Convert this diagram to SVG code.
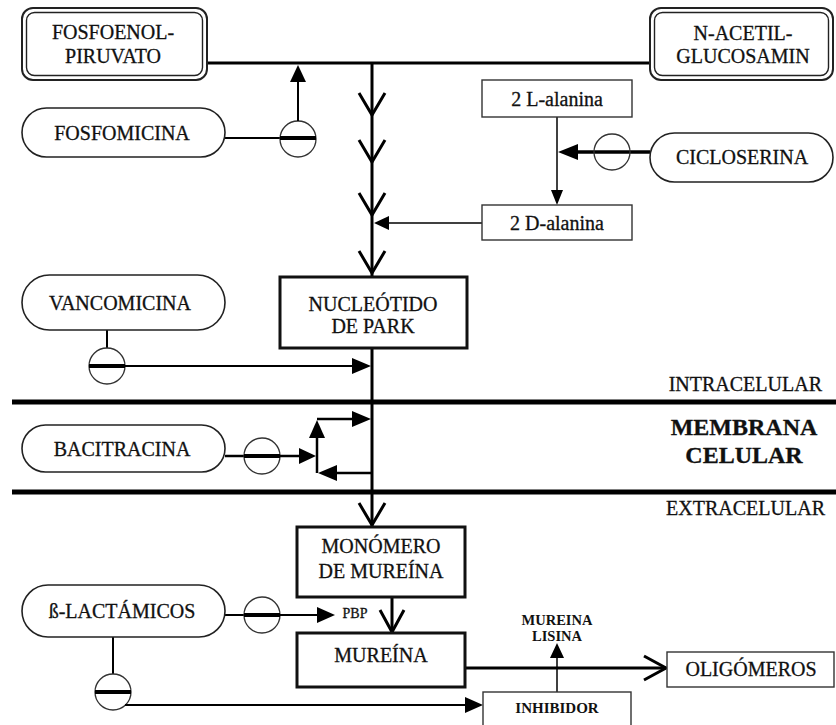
<svg xmlns="http://www.w3.org/2000/svg" width="836" height="725" viewBox="0 0 836 725">
<style>
text{font-family:"Liberation Serif","Times New Roman",serif;fill:#111;stroke:#111;stroke-width:0.3;text-anchor:middle}
.t20{font-size:20px}
.sm{font-size:14.5px;font-weight:bold;stroke-width:0}
.pill{fill:#fff;stroke:#222;stroke-width:1.6}
.box{fill:#fff;stroke:#111;stroke-width:3}
.tbox{fill:#fff;stroke:#333;stroke-width:1.4}
.dbl{fill:#fff;stroke:#222;stroke-width:2}
.dbli{fill:none;stroke:#222;stroke-width:1.4}
.circ{fill:#fff;stroke:#333;stroke-width:1.3}
.bar{stroke:#000;stroke-width:4}
.ln{stroke:#000;fill:none}
.chev{stroke:#000;stroke-width:3;fill:none}
.head{fill:#000}
.mem{stroke:#000;stroke-width:5}
</style>

<g id="membrane">
<line class="mem" x1="12" y1="402" x2="836" y2="402"/>
<line class="mem" x1="12" y1="492" x2="836" y2="492"/>
<text class="t20" x="822" y="391" style="text-anchor:end">INTRACELULAR</text>
<text x="744" y="435" style="font-size:24px;font-weight:bold">MEMBRANA</text>
<text x="744" y="463" style="font-size:24px;font-weight:bold">CELULAR</text>
<text class="t20" x="825" y="515" style="text-anchor:end">EXTRACELULAR</text>
</g>

<g id="connectors">
<line class="ln" x1="207" y1="63" x2="650" y2="63" stroke-width="3"/>
<line class="ln" x1="372" y1="63" x2="372" y2="277" stroke-width="3"/>
<line class="ln" x1="372" y1="348" x2="372" y2="527" stroke-width="3"/>
<polyline class="chev" points="359,93 372,115 385,93"/>
<polyline class="chev" points="359,140 372,162 385,140"/>
<polyline class="chev" points="359,193 372,215 385,193"/>
<polyline class="chev" points="359,251 372,273 385,251"/>
<polyline class="chev" points="359,503 372,525 385,503"/>
<line class="ln" x1="482" y1="223" x2="386" y2="223" stroke-width="1.5"/>
<polygon class="head" points="374,223 389,216 389,230"/>
<line class="ln" x1="557" y1="117" x2="557" y2="192" stroke-width="1.5"/>
<polygon class="head" points="557,205 551,190 563,190"/>
<line class="ln" x1="650" y1="152" x2="575" y2="152" stroke-width="3.5"/>
<polygon class="head" points="558,152 578,144 578,160"/>
<circle class="circ" cx="612" cy="152" r="18" style="fill:none"/>
<line class="ln" x1="225" y1="138" x2="280" y2="138" stroke-width="2"/>
<circle class="circ" cx="298" cy="139" r="18"/>
<line class="bar" x1="280" y1="138" x2="316" y2="138"/>
<line class="ln" x1="298" y1="121" x2="298" y2="80" stroke-width="2"/>
<polygon class="head" points="298,65 290,82 306,82"/>
<line class="ln" x1="107" y1="330" x2="107" y2="348" stroke-width="2"/>
<circle class="circ" cx="107" cy="366" r="18"/>
<line class="bar" x1="89" y1="366" x2="125" y2="366"/>
<line class="ln" x1="125" y1="366" x2="354" y2="366" stroke-width="2"/>
<polygon class="head" points="371,366 352,358 352,374"/>
<line class="ln" x1="225" y1="456" x2="244" y2="456" stroke-width="2.5"/>
<circle class="circ" cx="262" cy="456" r="18"/>
<line class="bar" x1="244" y1="456" x2="280" y2="456"/>
<line class="ln" x1="280" y1="456" x2="302" y2="456" stroke-width="2.5"/>
<polygon class="head" points="316,456 299,448 299,464"/>
<line class="ln" x1="317" y1="473" x2="317" y2="432" stroke-width="2.5"/>
<polygon class="head" points="317,420 309,438 325,438"/>
<line class="ln" x1="317" y1="419" x2="354" y2="419" stroke-width="2.5"/>
<polygon class="head" points="371,419 352,411 352,427"/>
<line class="ln" x1="371" y1="473" x2="334" y2="473" stroke-width="2.5"/>
<polygon class="head" points="318,473 337,465 337,481"/>
<line class="ln" x1="225" y1="615" x2="244" y2="615" stroke-width="2"/>
<circle class="circ" cx="262" cy="615" r="18"/>
<line class="bar" x1="244" y1="615" x2="280" y2="615"/>
<line class="ln" x1="280" y1="615" x2="320" y2="615" stroke-width="2"/>
<polygon class="head" points="335,615 317,607 317,623"/>
<line class="ln" x1="113" y1="637" x2="113" y2="674" stroke-width="2"/>
<circle class="circ" cx="113" cy="692" r="18"/>
<line class="bar" x1="95" y1="692" x2="131" y2="692"/>
<line class="ln" x1="125" y1="705" x2="468" y2="705" stroke-width="2"/>
<polygon class="head" points="483,705 465,697 465,713"/>
<line class="ln" x1="392" y1="597" x2="392" y2="632" stroke-width="3"/>
<polyline class="chev" points="380,610 392,632 404,610"/>
<line class="ln" x1="465" y1="668" x2="666" y2="668" stroke-width="3"/>
<polyline class="chev" points="644,656 666,668 644,680"/>
<line class="ln" x1="557" y1="692" x2="557" y2="655" stroke-width="1.5"/>
<polygon class="head" points="557,643 550,658 564,658"/>
</g>

<g id="fosfoenolpiruvato">
<rect class="dbl" x="22" y="8" width="185" height="72" rx="11"/>
<rect class="dbli" x="26.5" y="12.5" width="176" height="63" rx="8"/>
<text class="t20" x="113" y="39">FOSFOENOL-</text>
<text class="t20" x="113" y="63">PIRUVATO</text>
</g>

<g id="nacetilglucosamin">
<rect class="dbl" x="650" y="8" width="183" height="72" rx="11"/>
<rect class="dbli" x="654.5" y="12.5" width="174" height="63" rx="8"/>
<text class="t20" x="743" y="40">N-ACETIL-</text>
<text class="t20" x="743" y="63">GLUCOSAMIN</text>
</g>

<g id="fosfomicina">
<rect class="pill" x="22" y="108" width="203" height="49" rx="24.5"/>
<text class="t20" x="122" y="140">FOSFOMICINA</text>
</g>

<g id="lalanina">
<rect class="tbox" x="482" y="80" width="150" height="37"/>
<text x="557" y="106" style="font-size:20px">2 L-alanina</text>
</g>

<g id="dalanina">
<rect class="tbox" x="482" y="205" width="150" height="35"/>
<text x="557" y="230" style="font-size:20px">2 D-alanina</text>
</g>

<g id="cicloserina">
<rect class="pill" x="650" y="133" width="183" height="49" rx="24.5"/>
<text class="t20" x="742" y="164">CICLOSERINA</text>
</g>

<g id="vancomicina">
<rect class="pill" x="22" y="275" width="203" height="55" rx="27.5"/>
<text class="t20" x="120" y="310">VANCOMICINA</text>
</g>

<g id="nucleotido">
<rect class="box" x="280" y="277" width="187" height="71"/>
<text class="t20" x="373" y="311">NUCLEÓTIDO</text>
<text class="t20" x="373" y="333">DE PARK</text>
</g>

<g id="bacitracina">
<rect class="pill" x="22" y="425" width="203" height="47" rx="23.5"/>
<text class="t20" x="122" y="456">BACITRACINA</text>
</g>

<g id="monomero">
<rect class="box" x="297" y="527" width="168" height="70"/>
<text class="t20" x="381" y="553">MONÓMERO</text>
<text class="t20" x="381" y="578">DE MUREÍNA</text>
</g>

<g id="betalactamicos">
<rect class="pill" x="22" y="585" width="203" height="52" rx="26"/>
<text class="t20" x="122" y="618">ß-LACTÁMICOS</text>
<text x="355" y="618" style="font-size:14px">PBP</text>
</g>

<g id="mureina">
<rect class="box" x="297" y="633" width="168" height="54"/>
<text class="t20" x="381" y="662">MUREÍNA</text>
</g>

<g id="mureinalisina">
<text class="sm" x="557" y="625">MUREINA</text>
<text class="sm" x="557" y="641">LISINA</text>
</g>

<g id="inhibidor">
<rect class="tbox" x="483" y="692" width="148" height="40"/>
<text x="557" y="713" style="font-size:15px;font-weight:bold;stroke-width:0">INHIBIDOR</text>
</g>

<g id="oligomeros">
<rect class="tbox" x="667" y="652" width="167" height="35"/>
<text class="t20" x="751" y="676">OLIGÓMEROS</text>
</g>
</svg>
